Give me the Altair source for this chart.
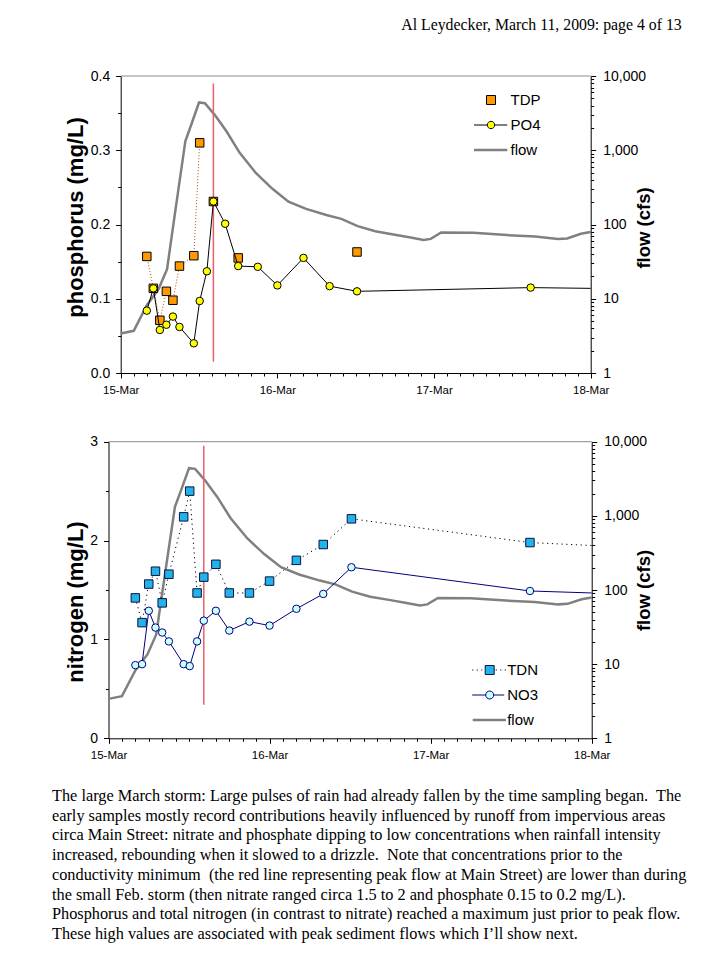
import altair as alt
import pandas as pd

# ---------------- data ----------------
day_labels = ["15-Mar", "16-Mar", "17-Mar", "18-Mar"]

# sampling times, hours after 15-Mar 00:00
sample_hours = [4.0, 5.0, 6.0, 7.0, 8.0, 9.0, 11.2, 12.1, 13.2, 14.2, 16.0, 18.0,
                21.0, 24.0, 28.0, 32.0, 36.2, 62.8]
tdp_mgl = [0.157, 0.114, 0.071, 0.110, 0.098, 0.144, 0.158, 0.310, None, 0.231, None, 0.155,
           None, None, None, None, 0.163, None]
po4_mgl = [0.084, 0.114, 0.058, 0.065, 0.076, 0.062, 0.040, 0.097, 0.137, 0.231, 0.201, 0.144,
           0.143, 0.118, 0.155, 0.117, 0.110, 0.115]
tdn_mgl = [1.42, 1.17, 1.56, 1.69, 1.37, 1.66, 2.24, 2.50, 1.47, 1.63, 1.76, 1.47,
           1.47, 1.59, 1.80, 1.96, 2.22, 1.98]
no3_mgl = [0.74, 0.75, 1.29, 1.12, 1.07, 0.98, 0.75, 0.73, 0.98, 1.19, 1.29, 1.09,
           1.18, 1.14, 1.31, 1.46, 1.73, 1.49]

# where the connecting lines leave the plot at 18-Mar
end_hour = 72.0
po4_end = 0.114
tdn_end = 1.95
no3_end = 1.47

flow_hours = [0.0, 2.0, 4.0, 5.8, 7.1, 8.4, 9.9, 10.9, 12.0, 12.9, 14.4, 16.2, 18.2, 20.7,
              23.2, 25.7, 28.4, 31.5, 33.8, 36.3, 39.0, 42.0, 44.4, 46.4, 47.5, 49.1, 54.0,
              59.2, 63.5, 67.0, 68.4, 70.5, 72.0]
flow_cfs = [3.4, 3.7, 8.2, 13.5, 25, 160, 1320, 2330, 4400, 4300, 3000, 1800, 930, 495,
            305, 203, 162, 134, 119, 95, 81, 73, 67, 62, 64, 78, 77.5,
            72, 69, 64, 65, 75, 79]

peak_hour = 14.2
peak_line_p = [0.015, 0.39]
peak_line_n = [0.34, 2.96]

p_domain = [0, 0.4]
n_domain = [0, 3]
flow_domain = [1, 10000]

top_series = ["TDP", "PO4", "flow"]
bot_series = ["TDN", "NO3", "flow"]

header_text = "Al Leydecker, March 11, 2009: page 4 of 13"
caption_lines = [
    "The large March storm: Large pulses of rain had already fallen by the time sampling began.\u00a0 The",
    "early samples mostly record contributions heavily influenced by runoff from impervious areas",
    "circa Main Street: nitrate and phosphate dipping to low concentrations when rainfall intensity",
    "increased, rebounding when it slowed to a drizzle.\u00a0 Note that concentrations prior to the",
    "conductivity minimum\u00a0 (the red line representing peak flow at Main Street) are lower than during",
    "the small Feb. storm (then nitrate ranged circa 1.5 to 2 and phosphate 0.15 to 0.2 mg/L).",
    "Phosphorus and total nitrogen (in contrast to nitrate) reached a maximum just prior to peak flow.",
    "These high values are associated with peak sediment flows which I\u2019ll show next.",
]

# ---------------- tables ----------------
t_max = (len(day_labels) - 1) * 24.0
df_s = pd.DataFrame({"t": sample_hours, "tdp": tdp_mgl, "po4": po4_mgl,
                     "tdn": tdn_mgl, "no3": no3_mgl})
df_tdp = df_s.dropna(subset=["tdp"])[["t", "tdp"]]
runs, r = [], 0
for v in tdp_mgl:
    if v is None:
        r += 1
    else:
        runs.append(r)
df_tdp = df_tdp.assign(run=runs)

end_row = pd.DataFrame({"t": [end_hour], "po4": [po4_end], "tdn": [tdn_end], "no3": [no3_end]})
df_lines = pd.concat([df_s[["t", "po4", "tdn", "no3"]], end_row], ignore_index=True)
df_lines["run"] = 0
df_flow = pd.DataFrame({"t": flow_hours, "cfs": flow_cfs})

# ---------------- layout (pixels inside the 704 x 944 drawing) ----------------
W, H = 704, 944
X_TOP, Y_TOP = [112.7, 582.7], [365, 68]
X_BOT, Y_BOT = [100.5, 583.7], [730.3, 433.7]
FONT = "Liberation Sans"


def xs(rng):
    return alt.Scale(domain=[0, t_max], range=rng, nice=False, zero=False)


def ys(dom, rng, log=False):
    if log:
        return alt.Scale(type="log", domain=dom, range=rng, nice=False)
    return alt.Scale(domain=dom, range=rng, nice=False, zero=False)


x_ticks = [float(h) for h in range(0, int(t_max) + 1, 2)]
x_label_expr = ("datum.value % 24 == 0 ? [" + ",".join("'%s'" % d for d in day_labels)
                + "][round(datum.value / 24)] : ''")


def x_axis(ypix):
    return alt.Axis(orient="bottom", offset=ypix - H, values=x_ticks, labelExpr=x_label_expr,
                    tickSize={"condition": {"test": "datum.value % 24 == 0", "value": 5}, "value": 3},
                    labelFlush=False, labelOverlap=False, labelFont=FONT, labelFontSize=11.5,
                    labelColor="black", labelPadding=6.5, domainColor="black", tickColor="black",
                    grid=False, title=None)


def left_axis(xpix, values, test, fmt, title, tx, ty):
    return alt.Axis(orient="left", offset=-xpix, values=values,
                    labelExpr="(%s) ? format(datum.value, '%s') : ''" % (test, fmt),
                    tickSize={"condition": {"test": test, "value": 5}, "value": 3},
                    labelOverlap=False, labelFont=FONT, labelFontSize=14, labelColor="black",
                    labelPadding=6, domainColor="black", tickColor="black", grid=False,
                    title=title, titleFont=FONT, titleFontSize=22, titleFontWeight="bold",
                    titleColor="black", titleAngle=270, titleAlign="center",
                    titleBaseline="middle", titleX=tx, titleY=ty)


decades = [1, 10, 100, 1000, 10000]
log_ticks = [m * 10 ** e for e in range(4) for m in range(1, 10)] + [10000]
dec_test = "indexof([%s], datum.value) >= 0" % ",".join(str(d) for d in decades)


def right_axis(xpix, tx, ty):
    return alt.Axis(orient="right", offset=xpix - W, values=log_ticks,
                    labelExpr="(%s) ? format(datum.value, ',') : ''" % dec_test,
                    tickSize={"condition": {"test": dec_test, "value": 5}, "value": 3},
                    labelOverlap=False, labelFont=FONT, labelFontSize=14, labelColor="black",
                    labelPadding=7, domainColor="black", tickColor="black", grid=False,
                    title="flow (cfs)", titleFont=FONT, titleFontSize=18.5, titleFontWeight="bold",
                    titleColor="black", titleAngle=270, titleAlign="center",
                    titleBaseline="middle", titleX=tx, titleY=ty)


p_vals = [round(i * 0.05, 2) for i in range(9)]
n_vals = [i * 0.5 for i in range(7)]
p_test = "abs(datum.value * 10 - round(datum.value * 10)) < 0.001"
n_test = "abs(datum.value - round(datum.value)) < 0.001"


def panel(X, Y, val_dom, val_axis, flow_axis, main_field, main_line_df, line_color, line_dash,
          pt_shape, pt_fill, pt_stroke, pt_df,
          sec_field, sec_df, sec_fill, sec_stroke, sec_line_color, sec_line_df,
          peak_span, xax):
    vs = ys(val_dom, Y)
    border = alt.Chart(pd.DataFrame({"t0": [0.0], "t1": [t_max], "v": [val_dom[1]]})).mark_rule(
        color="#8c8c8c", strokeWidth=1).encode(
        x=alt.X("t0:Q", scale=xs(X), axis=None), x2="t1:Q",
        y=alt.Y("v:Q", scale=vs, axis=None))
    flow = alt.Chart(df_flow).mark_line(color="#808080", strokeWidth=2.5).encode(
        x=alt.X("t:Q", scale=xs(X), axis=None),
        y=alt.Y("cfs:Q", scale=ys(flow_domain, Y, log=True), axis=flow_axis))
    peak = alt.Chart(pd.DataFrame({"t": [peak_hour], "lo": [peak_span[0]], "hi": [peak_span[1]]})).mark_rule(
        color="#e8606a", strokeWidth=1.5).encode(
        x=alt.X("t:Q", scale=xs(X), axis=None),
        y=alt.Y("lo:Q", scale=vs, axis=None), y2="hi:Q")
    l1 = alt.Chart(main_line_df).mark_line(
        color=line_color, strokeWidth=1, strokeDash=line_dash).encode(
        x=alt.X("t:Q", scale=xs(X), axis=None),
        y=alt.Y(f"{main_field}:Q", scale=vs, axis=None),
        detail="run:N")
    p1 = alt.Chart(pt_df).mark_point(shape=pt_shape, filled=True, fill=pt_fill, stroke=pt_stroke,
                                     strokeWidth=1, size=72, opacity=1).encode(
        x=alt.X("t:Q", scale=xs(X), axis=xax),
        y=alt.Y(f"{main_field}:Q", scale=vs, axis=val_axis))
    l2 = alt.Chart(sec_line_df).mark_line(color=sec_line_color, strokeWidth=1).encode(
        x=alt.X("t:Q", scale=xs(X), axis=None),
        y=alt.Y(f"{sec_field}:Q", scale=vs, axis=None))
    p2 = alt.Chart(sec_df).mark_point(shape="circle", filled=True, fill=sec_fill, stroke=sec_stroke,
                                      strokeWidth=1, size=56, opacity=1).encode(
        x=alt.X("t:Q", scale=xs(X), axis=None),
        y=alt.Y(f"{sec_field}:Q", scale=vs, axis=None))
    return [border, flow, peak, l1, p1, l2, p2]


top_layers = panel(
    X_TOP, Y_TOP, p_domain,
    left_axis(X_TOP[0], p_vals, p_test, ".1f", "phosphorus (mg/L)", -45.7, 209),
    right_axis(X_TOP[1], 52.3, 219.5),
    "tdp", df_tdp, "#b04a00", [1, 2],
    "square", "#ff9900", "black", df_tdp,
    "po4", df_s[["t", "po4"]], "#ffff00", "black", "black", df_lines[["t", "po4"]],
    peak_line_p, x_axis(Y_TOP[0]))

bot_layers = panel(
    X_BOT, Y_BOT, n_domain,
    left_axis(X_BOT[0], n_vals, n_test, "d", "nitrogen (mg/L)", -33.5, 593.5),
    right_axis(X_BOT[1], 51.3, 582),
    "tdn", df_lines[["t", "tdn", "run"]], "black", [1.2, 3.6],
    "square", "#1fb4ea", "#101040", df_s[["t", "tdn"]],
    "no3", df_s[["t", "no3"]], "#ccffff", "#000080", "#000080", df_lines[["t", "no3"]],
    peak_line_n, x_axis(Y_BOT[0]))

# ---------------- legends (symbol paths in units of 10 px) ----------------
sq = "M-0.45,-0.45H0.45V0.45H-0.45Z"
circ = "M0.37,0A0.37,0.37,0,1,1,-0.37,0A0.37,0.37,0,1,1,0.37,0Z"
flow_sym = "M-1.7,-0.12H1.63V0.12H-1.7Z"
po4_sym = "M-1.7,0H-0.37M0.37,0H1.63" + circ
no3_sym = "M-1.75,0H-0.4M0.4,0H1.45" + circ.replace("0.37", "0.4")
dots = "".join("M%.2f,0h0.12" % x for x in [-1.75, -1.3, -0.85, 0.6, 1.05, 1.5])
tdn_sym = dots + sq


def legend_layer(field, names, shapes, fills, strokes, lx, ly, lo):
    leg = alt.Legend(title=None, orient="none", legendX=lx, legendY=ly, symbolSize=400,
                     symbolStrokeWidth=1, symbolOpacity=1, labelFont=FONT, labelFontSize=15,
                     labelColor="black", labelOffset=lo, rowPadding=6, padding=0,
                     symbolOffset=0, labelLimit=0)
    return alt.Chart(pd.DataFrame({field: names})).transform_filter("false").mark_point(
        size=400, opacity=1, strokeWidth=1).encode(
        shape=alt.Shape(f"{field}:N", scale=alt.Scale(domain=names, range=shapes), legend=leg),
        fill=alt.Fill(f"{field}:N", scale=alt.Scale(domain=names, range=fills), legend=leg),
        stroke=alt.Stroke(f"{field}:N", scale=alt.Scale(domain=names, range=strokes), legend=leg))


leg_top = legend_layer("top_series", top_series, [sq, po4_sym, flow_sym],
                       ["#ff9900", "#ffff00", "#808080"], ["black", "black", "transparent"],
                       472.5, 81.5, 9)
leg_bot = legend_layer("bot_series", bot_series, [tdn_sym, no3_sym, flow_sym],
                       ["#1fb4ea", "#ccffff", "#808080"], ["#101040", "#000080", "transparent"],
                       471.2, 651.5, 7)

# ---------------- text ----------------
header = alt.Chart(pd.DataFrame({"txt": [header_text]})).mark_text(
    align="right", baseline="alphabetic", font="Liberation Serif", fontSize=15.8,
    color="black").encode(text="txt:N", x=alt.value(673.7), y=alt.value(22))

df_cap = pd.DataFrame({"i": list(range(len(caption_lines))), "txt": caption_lines})
caption = alt.Chart(df_cap).mark_text(
    align="left", baseline="alphabetic", font="Liberation Serif", fontSize=16.3,
    color="black").encode(
    text="txt:N", x=alt.value(44),
    y=alt.Y("i:Q", scale=alt.Scale(domain=[0, len(caption_lines) - 1], range=[793, 931],
                                   nice=False, zero=False), axis=None))

chart = alt.layer(*top_layers, *bot_layers, leg_top, leg_bot, header, caption).resolve_scale(
    x="independent", y="independent", shape="independent", fill="independent",
    stroke="independent").properties(
    width=W, height=H, padding=0, autosize=alt.AutoSizeParams(type="none")
).configure_view(stroke=None)

chart.save("out.html", embed_options={"renderer": "svg", "actions": False})
